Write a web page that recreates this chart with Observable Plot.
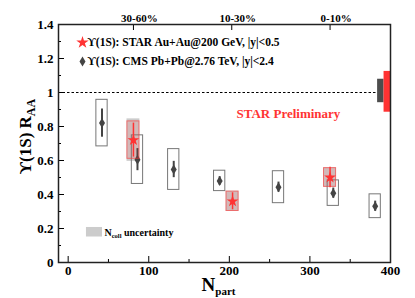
<!DOCTYPE html>
<html><head><meta charset="utf-8">
<script src="https://cdn.jsdelivr.net/npm/d3@7"></script>
<script src="https://cdn.jsdelivr.net/npm/@observablehq/plot@0.6"></script>
<style>body{margin:0;background:#fff} svg{font-family:"Liberation Serif","Times New Roman",serif}</style>
</head><body><div id="chart"></div>
<script>
const cmsNpart=[42,86,131,188,261,329,381];
const cmsRaa=[0.82,0.605,0.547,0.48,0.443,0.408,0.331];
const cmsStat=[0.083,0.065,0.048,0.025,0.03,0.03,0.03];
const cmsSys=[0.137,0.143,0.12,0.06,0.094,0.075,0.07];
const starNpart=[81,204,325];
const starRaa=[0.72,0.36,0.50];
const starStat=[0.10,0.05,0.06];
const starSys=[0.11,0.057,0.055];
const starNcoll=[0.125,0.06,0.058];
const centLabels=["30-60%","10-30%","0-10%"];
const centNpart=[81,203,325];
const xTicks=[0,100,200,300,400];
const xMinor=[50,150,250,350];
const yTicks=[0,0.2,0.4,0.6,0.8,1,1.2,1.4];
const yMinor=[0.1,0.3,0.5,0.7,0.9,1.1,1.3];
const globalCms=[0.94,1.078];
const globalStar=[0.884,1.124];
const legendLabels=["ϒ(1S): STAR Au+Au@200 GeV, |y|<0.5","ϒ(1S): CMS Pb+Pb@2.76 TeV, |y|<2.4"];

const cms=cmsNpart.map((x,i)=>({x,y:cmsRaa[i],stat:cmsStat[i],sys:cmsSys[i]}));
const star=starNpart.map((x,i)=>({x,y:starRaa[i],stat:starStat[i],sys:starSys[i],ncoll:starNcoll[i]}));
const RED="#ff3333";
const tallDiamond={draw(ctx,size){const s=Math.sqrt(size);const h=s/2,w=s*0.3;ctx.moveTo(0,-h);ctx.lineTo(w,0);ctx.lineTo(0,h);ctx.lineTo(-w,0);ctx.closePath();}};
const bold={fontSize:13,fontWeight:"bold"};

const chart=Plot.plot({
  width:415,height:298,marginLeft:58,marginRight:25,marginTop:24,marginBottom:36,
  x:{domain:[-12,400]},
  y:{domain:[0,1.4]},
  style:{fontFamily:"Liberation Serif, serif",color:"#000"},
  marks:[
    Plot.ruleY([1],{x1:-12,x2:384,stroke:"#000",strokeDasharray:"2.5,2",strokeWidth:1}),
    Plot.rect(star,{x1:d=>d.x-8,x2:d=>d.x+8,y1:d=>d.y-d.ncoll,y2:d=>d.y+d.ncoll,fill:"#cccccc"}),
    Plot.rect(cms,{x1:d=>d.x-7,x2:d=>d.x+7,y1:d=>d.y-d.sys,y2:d=>d.y+d.sys,fill:"none",stroke:"#777",strokeWidth:1}),
    Plot.ruleX(cms,{x:"x",y1:d=>d.y-d.stat,y2:d=>d.y+d.stat,stroke:"#444",strokeWidth:2}),
    Plot.dot(cms,{x:"x",y:"y",symbol:tallDiamond,r:5.64,fill:"#444",stroke:"none"}),
    Plot.rect(star,{x1:d=>d.x-7.5,x2:d=>d.x+7.5,y1:d=>d.y-d.sys,y2:d=>d.y+d.sys,fill:RED,fillOpacity:0.12,stroke:RED,strokeOpacity:0.6,strokeWidth:1}),
    Plot.ruleX(star,{x:"x",y1:d=>d.y-d.stat,y2:d=>d.y+d.stat,stroke:RED,strokeWidth:1.5}),
    Plot.dot(star,{x:"x",y:"y",symbol:"star",r:3.7,fill:RED,stroke:"none"}),
    Plot.rect([globalCms],{x1:384,x2:392,y1:d=>d[0],y2:d=>d[1],fill:"#4d4d4d"}),
    Plot.rect([globalStar],{x1:392,x2:400,y1:d=>d[0],y2:d=>d[1],fill:RED}),
    // legend
    Plot.dot([legendLabels[0]],{frameAnchor:"top-left",dx:24,dy:18,symbol:"star",r:3.9,fill:RED}),
    Plot.dot([legendLabels[1]],{frameAnchor:"top-left",dx:24,dy:37,symbol:tallDiamond,r:5.64,fill:"#444"}),
    Plot.text([legendLabels[0]],{frameAnchor:"top-left",dx:29,dy:18,text:d=>d,textAnchor:"start",lineAnchor:"middle",fontSize:11.5,fontWeight:"bold",fill:"#000"}),
    Plot.text([legendLabels[1]],{frameAnchor:"top-left",dx:29,dy:37,text:d=>d,textAnchor:"start",lineAnchor:"middle",fontSize:11.5,fontWeight:"bold",fill:"#000"}),
    Plot.text(["STAR Preliminary"],{frameAnchor:"top-left",dx:178,dy:89,text:d=>d,textAnchor:"start",lineAnchor:"middle",fontSize:13,fontWeight:"bold",fill:RED}),
    Plot.rect(["ncoll"],{x1:22.7,x2:42.6,y1:0.15,y2:0.206,fill:"#cccccc"}),
    Plot.text(["N"],{frameAnchor:"bottom-left",dx:46,dy:-30,text:d=>d,textAnchor:"start",lineAnchor:"middle",fontSize:10,fontWeight:"bold",fill:"#000"}),
    // axes
    Plot.axisX(xTicks,{anchor:"bottom",tickSize:0,tickPadding:3,label:null,...bold}),
    Plot.axisX(xTicks,{anchor:"bottom",tickSize:-6,text:null,label:null,stroke:"#000"}),
    Plot.axisX(xMinor,{anchor:"bottom",tickSize:-3,text:null,label:null,stroke:"#000"}),
    Plot.axisX(centNpart,{anchor:"top",tickSize:-5,text:null,label:null,stroke:"#000"}),
    Plot.axisX(centNpart,{anchor:"top",tickSize:0,tickPadding:3,dx:6,tickFormat:d=>centLabels[centNpart.indexOf(d)],label:null,fontSize:11,fontWeight:"bold"}),
    Plot.axisY(yTicks,{anchor:"left",tickSize:0,tickPadding:5,tickFormat:d=>String(+d.toFixed(1)),label:null,...bold}),
    Plot.axisY(yTicks,{anchor:"left",tickSize:-6,text:null,label:null,stroke:"#000"}),
    Plot.axisY(yMinor,{anchor:"left",tickSize:-3,text:null,label:null,stroke:"#000"}),
    Plot.text(["ϒ(1S) R"],{frameAnchor:"left",dx:-33,dy:-7,rotate:-90,text:d=>d,textAnchor:"middle",lineAnchor:"middle",fontSize:17,fontWeight:"bold",fill:"#000"}),
    Plot.text(["N"],{frameAnchor:"bottom",dx:-6,dy:22,text:d=>d,textAnchor:"middle",lineAnchor:"middle",fontSize:19,fontWeight:"bold",fill:"#000"}),
    Plot.frame({stroke:"#222",strokeWidth:1.5})
  ]
});
document.getElementById("chart").appendChild(chart);
const s=d3.select(chart);
const byText=(t,size)=>s.selectAll("text").filter(function(){return this.textContent===t && (!size || this.closest("g").getAttribute("font-size")==size);});
byText("ϒ(1S) R").append("tspan").attr("dy","4").attr("font-size","12").text("AA");
byText("N",19).append("tspan").attr("dy","4").attr("font-size","11").text("part");
const nc=byText("N",10);
nc.append("tspan").attr("dy","2").attr("font-size","6.5").text("coll");
nc.append("tspan").attr("dy","-2").attr("font-size","10").text(" uncertainty");
</script></body></html>
